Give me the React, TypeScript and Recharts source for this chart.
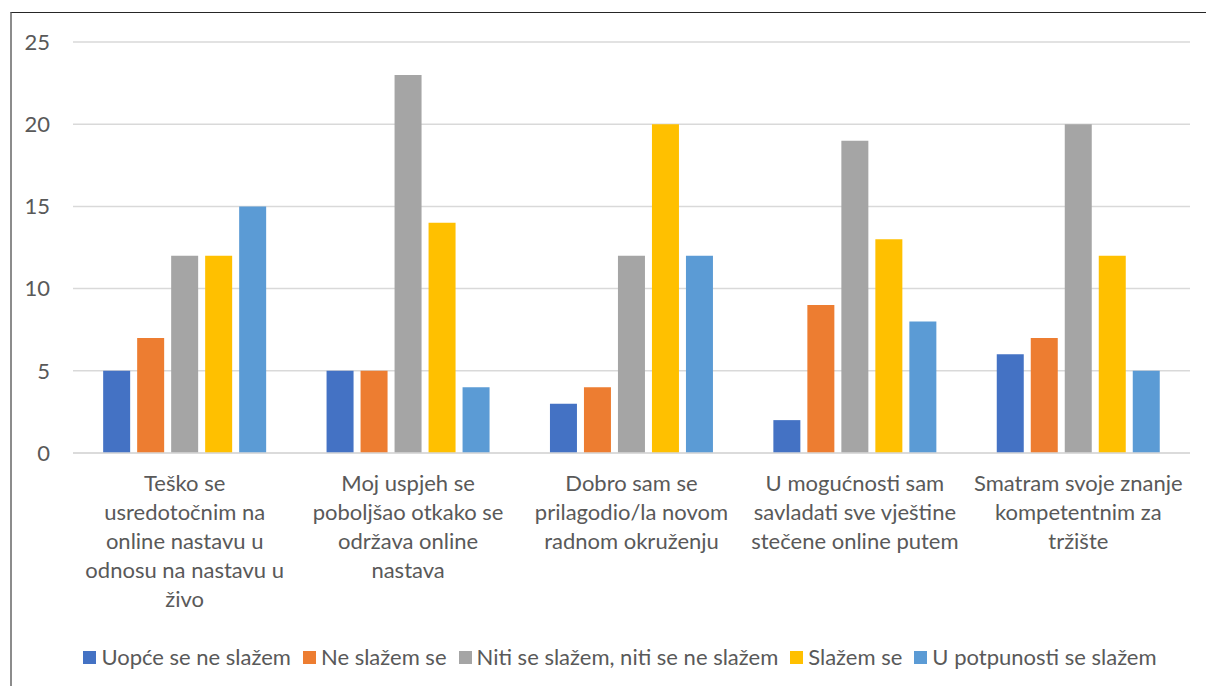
import { BarChart, Bar, XAxis, YAxis, CartesianGrid, Legend } from 'recharts'

const categories = [
  'Teško se usredotočnim na online nastavu u odnosu na nastavu u živo',
  'Moj uspjeh se poboljšao otkako se održava online nastava',
  'Dobro sam se prilagodio/la novom radnom okruženju',
  'U mogućnosti sam savladati sve vještine stečene online putem',
  'Smatram svoje znanje kompetentnim za tržište',
]

// how each category label wraps under the axis
const categoryLines = [
  ['Teško se', 'usredotočnim na', 'online nastavu u', 'odnosu na nastavu u', 'živo'],
  ['Moj uspjeh se', 'poboljšao otkako se', 'održava online', 'nastava'],
  ['Dobro sam se', 'prilagodio/la novom', 'radnom okruženju'],
  ['U mogućnosti sam', 'savladati sve vještine', 'stečene online putem'],
  ['Smatram svoje znanje', 'kompetentnim za', 'tržište'],
]

const seriesNames = [
  'Uopće se ne slažem',
  'Ne slažem se',
  'Niti se slažem, niti se ne slažem',
  'Slažem se',
  'U potpunosti se slažem',
]

const uopceSeNe = [5, 5, 3, 2, 6]
const neSlazem = [7, 5, 4, 9, 7]
const nitiNiti = [12, 23, 12, 19, 20]
const slazem = [12, 14, 20, 13, 12]
const uPotpunosti = [15, 4, 12, 8, 5]

const yTicks = [0, 5, 10, 15, 20, 25]

const colors = ['#4472C4', '#ED7D31', '#A5A5A5', '#FFC000', '#5B9BD5']
const keys = ['s0', 's1', 's2', 's3', 's4']
const seriesValues = [uopceSeNe, neSlazem, nitiNiti, slazem, uPotpunosti]

const data = categories.map((c, i) => {
  const row: any = { category: c, index: i }
  seriesValues.forEach((vals, s) => { row[keys[s]] = vals[i] })
  return row
})

const FONT = 'Lato, "Noto Sans", sans-serif'
const TEXT = '#595959'

const CategoryTick = ({ x, y, payload }: any) => {
  const lines = categoryLines[payload.index] || [payload.value]
  return (
    <text x={x} y={y} textAnchor="middle" fill={TEXT} fontFamily={FONT} fontSize={22}>
      {lines.map((l, i) => (
        <tspan key={i} x={x} dy={i === 0 ? 30 : 29}>{l}</tspan>
      ))}
    </text>
  )
}

const LegendContent = () => (
  <div style={{
    display: 'flex', justifyContent: 'center', height: 60, paddingTop: 2, boxSizing: 'border-box',
    paddingLeft: 34, fontFamily: FONT, fontSize: 22, color: TEXT, lineHeight: '26px',
  }}>
    {seriesNames.map((n, i) => (
      <span key={n} style={{ display: 'flex', alignItems: 'center', marginRight: i < seriesNames.length - 1 ? 12 : 0 }}>
        <span style={{ width: 13, height: 13, background: colors[i], marginRight: 5, display: 'inline-block' }} />
        {n}
      </span>
    ))}
  </div>
)

export default function App() {
  return (
    <div style={{ position: 'absolute', left: 0, top: 0, width: 1206, height: 686, background: '#fff', overflow: 'hidden' }}>
      <div style={{
        position: 'absolute', left: 10, top: 12, width: 1206, height: 700,
        borderTop: '1.5px solid #262626', borderLeft: '2px solid #8c8c8c',
      }} />
      <div style={{ position: 'absolute', left: 0, top: 0 }}>
        <BarChart
          width={1206}
          height={686}
          data={data}
          margin={{ top: 42, right: 16, left: 0, bottom: 0 }}
          barCategoryGap="13.5%"
          barGap={7}
        >
          <CartesianGrid vertical={false} stroke="#D9D9D9" strokeWidth={1.5} />
          <XAxis
            dataKey="category"
            axisLine={{ stroke: '#D9D9D9', strokeWidth: 1.5 }}
            tickLine={false}
            interval={0}
            height={173}
            tick={<CategoryTick />}
          />
          <YAxis
            domain={[0, 25]}
            ticks={yTicks}
            width={73}
            axisLine={false}
            tickLine={false}
            tickMargin={17}
            tick={{ fontSize: 22, fill: TEXT, fontFamily: FONT }}
          />
          <Legend verticalAlign="bottom" content={<LegendContent />} wrapperStyle={{ left: 0, width: 1206 }} />
          {keys.map((k, i) => (
            <Bar key={k} dataKey={k} name={seriesNames[i]} fill={colors[i]} isAnimationActive={false} />
          ))}
        </BarChart>
      </div>
    </div>
  )
}
